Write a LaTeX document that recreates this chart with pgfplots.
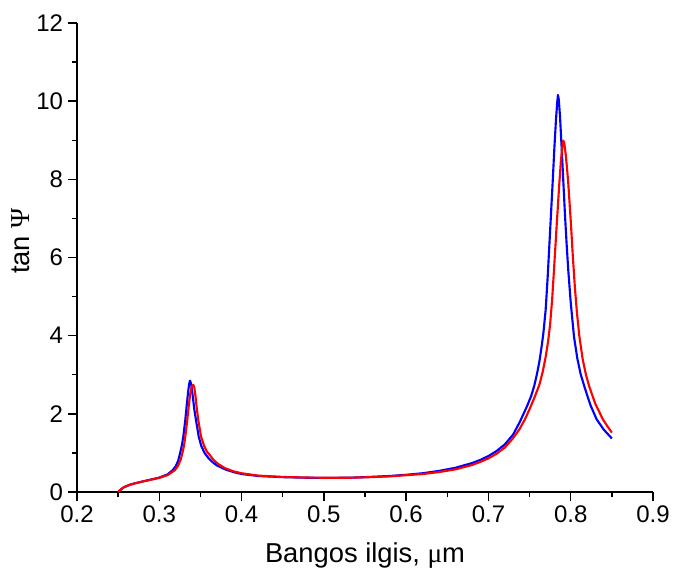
\documentclass[border=0pt]{standalone}
\usepackage{fontspec}
\setmainfont{Liberation Sans}
\newfontfamily\seriffont{Liberation Serif}
\usepackage{pgfplots}
\pgfplotsset{compat=1.18}
\definecolor{cblue}{RGB}{0,0,255}
\definecolor{cred}{RGB}{255,0,0}
\begin{document}
\begin{tikzpicture}
\useasboundingbox (-57.75pt,-59.25pt) rectangle (447pt,369pt);
\begin{axis}[
  at={(0,0)}, anchor=south west,
  scale only axis, width=432pt, height=351.75pt,
  xmin=0.2, xmax=0.9, ymin=0, ymax=12,
  axis x line*=bottom, axis y line*=left,
  axis line style={-, line width=1.1pt, black},
  tick align=outside,
  major tick length=7pt, minor tick length=4pt,
  every tick/.style={black, line width=1.1pt},
  xtick={0.2,0.3,0.4,0.5,0.6,0.7,0.8,0.9},
  xticklabels={0.2,0.3,0.4,0.5,0.6,0.7,0.8,0.9},
  ytick={0,2,4,6,8,10,12},
  yticklabels={0,2,4,6,8,10,12},
  minor x tick num=1, minor y tick num=1,
  ticklabel style={font=\fontsize{18}{21}\selectfont},
  /pgf/number format/assume math mode=true,
  xlabel={Bangos ilgis, {\seriffont μ}m},
  ylabel={tan {\seriffont Ψ}},
  label style={font=\fontsize{20.5}{24}\selectfont},
  xlabel style={at={(axis description cs:0.5,-0.151)}, anchor=base},
  ylabel style={at={(axis description cs:-0.082,0.535)}, anchor=base, rotate=0},
  clip=false,
]
\addplot[cblue, line width=1.6pt, line join=round] coordinates {
(0.250,0.00) (0.253,0.06) (0.256,0.11) (0.260,0.15) (0.265,0.19) (0.270,0.22)
(0.280,0.27) (0.290,0.32) (0.300,0.37) (0.310,0.45) (0.3163,0.56) (0.320,0.66)
(0.323,0.80) (0.3252,0.99) (0.3275,1.20) (0.3292,1.42) (0.3316,1.84) (0.3335,2.25)
(0.335,2.55) (0.3362,2.75) (0.3373,2.85) (0.3385,2.78) (0.339,2.72) (0.341,2.40)
(0.3425,2.12) (0.3446,1.84) (0.3479,1.42) (0.351,1.18) (0.355,1.00) (0.360,0.86)
(0.365,0.76) (0.370,0.68) (0.380,0.58) (0.390,0.51) (0.400,0.46) (0.420,0.41)
(0.450,0.38) (0.480,0.365) (0.500,0.36) (0.530,0.365) (0.550,0.38) (0.580,0.41)
(0.600,0.44) (0.620,0.48) (0.640,0.54) (0.660,0.62) (0.680,0.74) (0.690,0.82)
(0.700,0.92) (0.710,1.05) (0.720,1.22) (0.730,1.47) (0.7383,1.80) (0.747,2.20)
(0.752,2.46) (0.7557,2.72) (0.759,3.02) (0.762,3.35) (0.7645,3.70) (0.7667,4.05)
(0.7695,4.65) (0.772,5.50) (0.775,6.70) (0.778,7.90) (0.780,8.75) (0.782,9.50)
(0.7835,9.95) (0.7845,10.16) (0.7855,10.04) (0.787,9.60) (0.789,8.80) (0.791,7.95)
(0.793,7.10) (0.795,6.35) (0.797,5.68) (0.800,4.85) (0.804,3.97) (0.808,3.42)
(0.812,3.02) (0.8173,2.65) (0.824,2.22) (0.8315,1.86) (0.840,1.60) (0.850,1.37)
};
\addplot[cred, line width=1.6pt, line join=round] coordinates {
(0.250,0.00) (0.253,0.06) (0.256,0.11) (0.260,0.15) (0.265,0.19) (0.270,0.22)
(0.280,0.27) (0.290,0.315) (0.300,0.36) (0.310,0.43) (0.319,0.56) (0.323,0.68)
(0.326,0.83) (0.328,0.99) (0.330,1.18) (0.3316,1.42) (0.334,1.84) (0.3358,2.20)
(0.3375,2.50) (0.339,2.66) (0.3403,2.72) (0.3413,2.74) (0.3425,2.68) (0.344,2.45)
(0.3455,2.15) (0.3474,1.84) (0.3507,1.42) (0.3545,1.18) (0.358,1.03) (0.3616,0.94)
(0.366,0.82) (0.372,0.71) (0.380,0.61) (0.390,0.53) (0.400,0.48) (0.420,0.42)
(0.450,0.385) (0.480,0.37) (0.500,0.365) (0.530,0.365) (0.550,0.375) (0.580,0.40)
(0.600,0.43) (0.620,0.46) (0.640,0.51) (0.660,0.58) (0.680,0.69) (0.690,0.77)
(0.700,0.86) (0.710,0.98) (0.720,1.14) (0.730,1.38) (0.7375,1.60) (0.7444,1.86)
(0.750,2.12) (0.756,2.42) (0.762,2.75) (0.766,3.08) (0.7695,3.45) (0.7725,3.85)
(0.775,4.30) (0.7775,4.95) (0.780,5.80) (0.783,6.85) (0.786,7.85) (0.788,8.45)
(0.7898,8.85) (0.791,8.99) (0.7922,8.92) (0.794,8.62) (0.7955,8.28) (0.797,7.90)
(0.800,6.95) (0.8025,6.05) (0.805,5.25) (0.8075,4.60) (0.8104,4.00) (0.8145,3.40)
(0.8185,3.00) (0.8225,2.70) (0.830,2.25) (0.8396,1.84) (0.845,1.67) (0.850,1.52)
};
\end{axis}
\end{tikzpicture}
\end{document}
